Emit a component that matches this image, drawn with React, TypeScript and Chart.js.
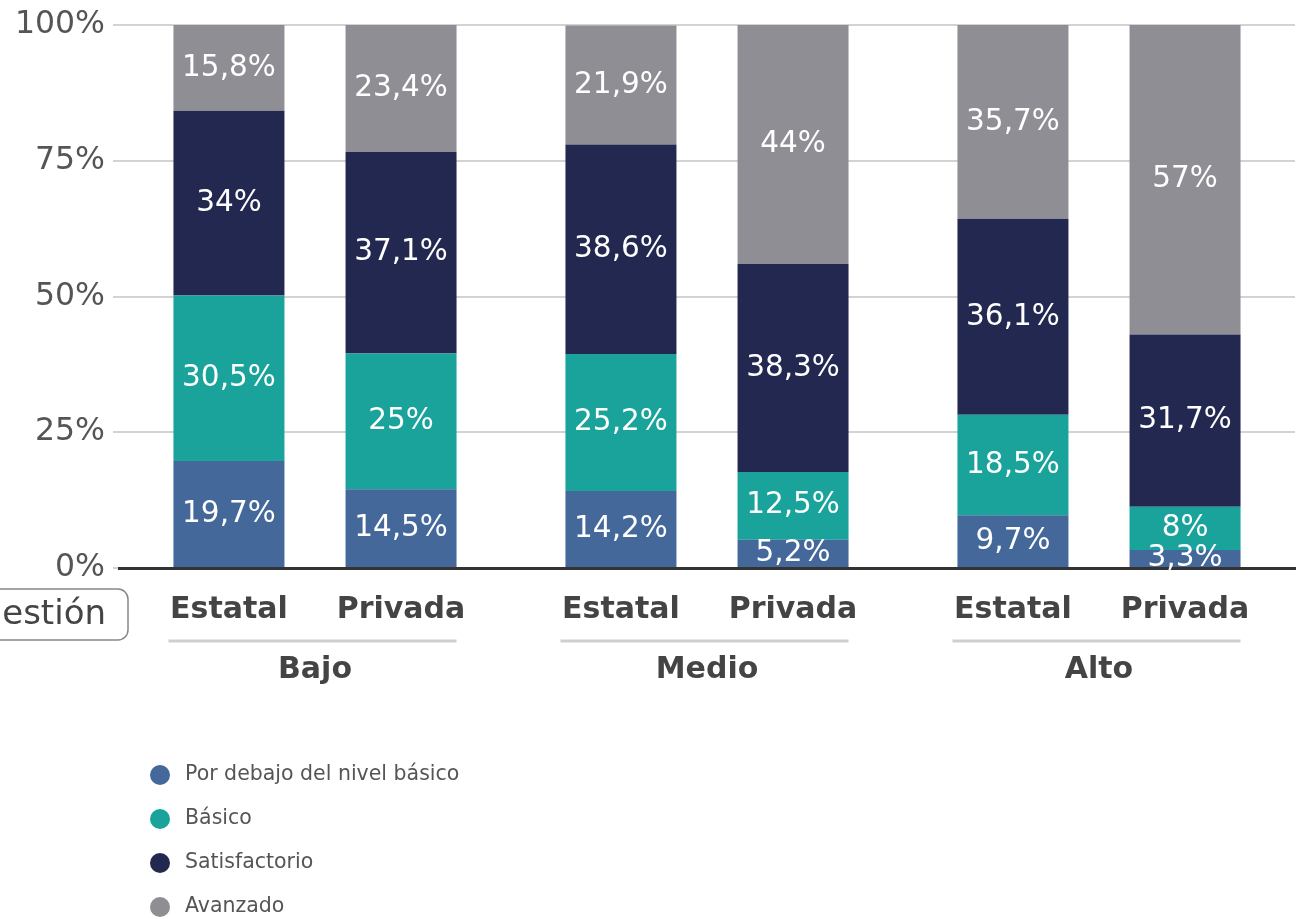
import React, { useEffect, useRef } from 'react';
import { Chart, registerables } from 'chart.js';

Chart.register(...registerables);

const groups = ['Bajo', 'Medio', 'Alto'];
const gestiones = ['Estatal', 'Privada'];
const levels = ['Por debajo del nivel básico', 'Básico', 'Satisfactorio', 'Avanzado'];
const levelColors = ['#44689a', '#19a39a', '#232850', '#8f8e94'];

const estatalPorDebajo = [19.7, 14.2, 9.7];
const estatalBasico = [30.5, 25.2, 18.5];
const estatalSatisfactorio = [34, 38.6, 36.1];
const estatalAvanzado = [15.8, 21.9, 35.7];

const privadaPorDebajo = [14.5, 5.2, 3.3];
const privadaBasico = [25, 12.5, 8];
const privadaSatisfactorio = [37.1, 38.3, 31.7];
const privadaAvanzado = [23.4, 44, 57];

const yTicks = [0, 25, 50, 75, 100];
const boxLabel = 'Gestión';

const seriesByGestion = [
  [estatalPorDebajo, estatalBasico, estatalSatisfactorio, estatalAvanzado],
  [privadaPorDebajo, privadaBasico, privadaSatisfactorio, privadaAvanzado],
];

const FONT = '"DejaVu Sans", sans-serif';
const fmt = (v: number) => String(v).replace('.', ',') + '%';

const overlay = {
  id: 'overlay',
  afterDatasetsDraw(chart: any) {
    const ctx = chart.ctx;
    ctx.save();
    ctx.fillStyle = '#ffffff';
    ctx.font = `29.5px ${FONT}`;
    ctx.textAlign = 'center';
    ctx.textBaseline = 'middle';
    chart.data.datasets.forEach((ds: any, i: number) => {
      const meta = chart.getDatasetMeta(i);
      meta.data.forEach((bar: any, j: number) => {
        const p = bar.getProps(['x', 'y', 'base'], true);
        ctx.fillText(fmt(ds.data[j]), p.x, (p.y + p.base) / 2);
      });
    });
    ctx.restore();
  },
  afterDraw(chart: any) {
    const ctx = chart.ctx;
    const area = chart.chartArea;
    ctx.save();
    const metaE = chart.getDatasetMeta(0);
    const metaP = chart.getDatasetMeta(levels.length);
    ctx.font = `bold 30px ${FONT}`;
    ctx.textAlign = 'center';
    ctx.textBaseline = 'middle';
    groups.forEach((_, j) => {
      const be = metaE.data[j].getProps(['x', 'width'], true);
      const bp = metaP.data[j].getProps(['x', 'width'], true);
      ctx.fillStyle = '#444444';
      ctx.fillText(gestiones[0], be.x, area.bottom + 42);
      ctx.fillText(gestiones[1], bp.x, area.bottom + 42);
      ctx.strokeStyle = '#cfcfcf';
      ctx.lineWidth = 3;
      ctx.beginPath();
      ctx.moveTo(be.x - be.width / 2 - 5, area.bottom + 73);
      ctx.lineTo(bp.x + bp.width / 2, area.bottom + 73);
      ctx.stroke();
    });
    // Gestión box
    ctx.strokeStyle = '#888888';
    ctx.lineWidth = 1.5;
    ctx.beginPath();
    ctx.roundRect(-40, area.bottom + 21, 168, 51, 10);
    ctx.stroke();
    ctx.fillStyle = '#444444';
    ctx.font = `34px ${FONT}`;
    ctx.textAlign = 'right';
    ctx.fillText(boxLabel, 106, area.bottom + 47);
    // legend
    ctx.font = `20.5px ${FONT}`;
    ctx.textAlign = 'left';
    levels.forEach((lab, k) => {
      const cy = 775 + k * 44;
      ctx.fillStyle = levelColors[k];
      ctx.beginPath();
      ctx.arc(160, cy, 10, 0, Math.PI * 2);
      ctx.fill();
      ctx.fillStyle = '#555555';
      ctx.fillText(lab, 185, cy);
    });
    ctx.restore();
  },
};

export default function App() {
  const ref = useRef<HTMLCanvasElement>(null);
  useEffect(() => {
    document.body.style.margin = '0';
    const datasets: any[] = [];
    gestiones.forEach((g, s) => {
      levels.forEach((lab, k) => {
        datasets.push({
          label: lab,
          data: seriesByGestion[s][k],
          backgroundColor: levelColors[k],
          stack: g,
          borderWidth: 0,
        });
      });
    });
    const chart = new Chart(ref.current as HTMLCanvasElement, {
      type: 'bar',
      data: { labels: groups, datasets },
      options: {
        responsive: false,
        animation: false,
        layout: { padding: { top: 25, right: 1, left: 0, bottom: 0 } },
        datasets: { bar: { categoryPercentage: 0.878, barPercentage: 0.645 } },
        plugins: { legend: { display: false }, tooltip: { enabled: false } },
        scales: {
          x: {
            stacked: true,
            grid: { display: false, drawTicks: false },
            border: { display: true, color: '#333333', width: 3 },
            ticks: {
              padding: 84,
              color: '#444444',
              font: { family: FONT, size: 30, weight: 'bold' },
            },
            afterFit: (scale: any) => {
              scale.height = 351;
            },
          },
          y: {
            stacked: true,
            min: 0,
            max: 100,
            afterBuildTicks: (scale: any) => {
              scale.ticks = yTicks.map((v) => ({ value: v }));
            },
            grid: { color: '#d3d3d3', lineWidth: 2, tickLength: 6, drawTicks: true },
            border: { display: false },
            ticks: {
              padding: 8,
              color: '#555555',
              font: { family: FONT, size: 31.5, lineHeight: 1 },
              callback: (v: any) => v + '%',
            },
            afterFit: (scale: any) => {
              scale.width = 119;
            },
          },
        },
      },
      plugins: [overlay],
    });
    return () => chart.destroy();
  }, []);
  return <canvas ref={ref} width={1296} height={919} style={{ display: 'block' }} />;
}
